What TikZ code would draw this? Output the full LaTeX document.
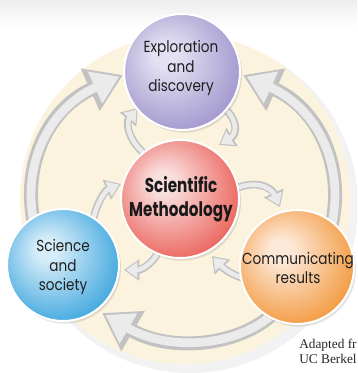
\documentclass[tikz,border=0pt]{standalone}
\usepackage{fontspec}
\setmainfont{Liberation Serif}
\newfontfamily\circfont{Poppins}[FakeStretch=0.85]
\newfontfamily\circbold{Poppins}[FakeStretch=0.76]
\usetikzlibrary{arrows.meta,shadows}
\pgfdeclarelayer{back}
\pgfdeclarelayer{arrowlayer}
\pgfsetlayers{back,arrowlayer,main}
\definecolor{cream}{RGB}{252,243,222}
\definecolor{purL}{RGB}{228,225,243}\definecolor{purD}{RGB}{146,134,196}
\definecolor{redL}{RGB}{249,222,222}\definecolor{redD}{RGB}{232,72,62}
\definecolor{bluL}{RGB}{214,236,249}\definecolor{bluD}{RGB}{30,152,216}
\definecolor{ornL}{RGB}{253,232,216}\definecolor{ornD}{RGB}{240,136,28}
\pgfdeclareradialshading{purball}{\pgfpoint{-8bp}{8bp}}{color(0bp)=(purL); color(5bp)=(purL); color(36bp)=(purD); color(50bp)=(purD)}
\pgfdeclareradialshading{redball}{\pgfpoint{-8bp}{8bp}}{color(0bp)=(redL); color(5bp)=(redL); color(36bp)=(redD); color(50bp)=(redD)}
\pgfdeclareradialshading{bluball}{\pgfpoint{-8bp}{8bp}}{color(0bp)=(bluL); color(5bp)=(bluL); color(36bp)=(bluD); color(50bp)=(bluD)}
\pgfdeclareradialshading{ornball}{\pgfpoint{-8bp}{8bp}}{color(0bp)=(ornL); color(5bp)=(ornL); color(36bp)=(ornD); color(50bp)=(ornD)}
\tikzset{
  ballbase/.style={circle, draw=white, line width=1.5pt, inner sep=0pt,
    drop shadow={opacity=0.22, shadow xshift=1.5pt, shadow yshift=-2pt}},
  plaintext/.style={font=\circfont\fontsize{12}{14.6}\selectfont, align=center, text=black!88, inner sep=0pt},
  boldtext/.style={font=\circbold\bfseries\fontsize{15}{18}\selectfont, align=center, text=black!90, inner sep=0pt},
  bigarr/.style={draw=gray!16, line width=6.5pt, shorten >=3pt, -{Triangle[width=25pt,length=20pt]},
    preaction={draw=gray!48, line width=10.5pt, shorten >=0pt, -{Triangle[width=33pt,length=27pt]}}},
  smallarr/.style={draw=gray!16, line width=3.4pt, shorten >=1.5pt, -{Triangle[width=11.5pt,length=8.5pt]},
    preaction={draw=gray!48, line width=5.8pt, shorten >=0pt, -{Triangle[width=15.5pt,length=11.5pt]}}}
}
\begin{document}
\begin{tikzpicture}[x=0.75pt, y=-0.75pt]
\useasboundingbox (0,0) rectangle (357,373);
\clip (0,0) rectangle (357,373);
% circles
\node[ballbase, shading=purball, minimum size=87pt] (P) at (182,72) {};
\node[ballbase, shading=redball, minimum size=88.5pt] (C) at (180,199) {};
\node[ballbase, shading=bluball, minimum size=84pt] (B) at (63,265) {};
\node[ballbase, shading=ornball, minimum size=85.5pt] (O) at (297,267) {};
\node[plaintext] (Pt) at (181,68) {Exploration\\and\\discovery};
\node[boldtext] (Ct) at (181,199) {Scientific\\Methodology};
\node[plaintext] (Bt) at (63,267) {Science\\and\\society};
\node[plaintext] (Ot) at (298,268) {Communicating\\results};
\node[anchor=base west, font=\fontsize{10}{11}\selectfont, text=black!85, align=left, inner sep=0pt] (src) at (299,363) {Adapted fr\\UC Berkel};
% connector end points
\coordinate (L1) at (40,245);  \coordinate (L2) at (123,75);
\coordinate (R1) at (326,245); \coordinate (R2) at (243,75);
\coordinate (D1) at (285,300); \coordinate (D2) at (102,313);
\coordinate (pl1) at (150,158); \coordinate (pl2) at (138,108);
\coordinate (pr1) at (220,105); \coordinate (pr2) at (219,145);
\coordinate (co1) at (232,190); \coordinate (co2) at (280,207);
\coordinate (oc1) at (252,280); \coordinate (oc2) at (212,256);
\coordinate (bc1) at (92,225);  \coordinate (bc2) at (121,184);
\coordinate (cb1) at (160,248); \coordinate (cb2) at (124,270);
\begin{pgfonlayer}{back}
  \clip (0,0) rectangle (357,373);
  \fill[white] (0,0) rectangle (357,373);
  \shade[top color=black!7, bottom color=white] (0,0) rectangle (357,28);
  \fill[black, opacity=0.05] (190,205) circle (168);
  \fill[cream] (185,199) circle (165);
\end{pgfonlayer}
\begin{pgfonlayer}{arrowlayer}
  \draw[bigarr] (L1) .. controls (15,175) and (45,110) .. (L2);
  \draw[bigarr] (R1) .. controls (351,175) and (321,110) .. (R2);
  \draw[bigarr] (D1) .. controls (255,345) and (174,355) .. (D2);
  \draw[smallarr] (pl1) .. controls (127,142) and (126,122) .. (pl2);
  \draw[smallarr] (pr1) .. controls (239,118) and (237,134) .. (pr2);
  \draw[smallarr] (co1) .. controls (255,179) and (271,187) .. (co2);
  \draw[smallarr] (oc1) .. controls (237,278) and (225,270) .. (oc2);
  \draw[smallarr] (bc1) .. controls (96,202) and (106,190) .. (bc2);
  \draw[smallarr] (cb1) .. controls (155,262) and (142,270) .. (cb2);
\end{pgfonlayer}
\end{tikzpicture}
\end{document}
